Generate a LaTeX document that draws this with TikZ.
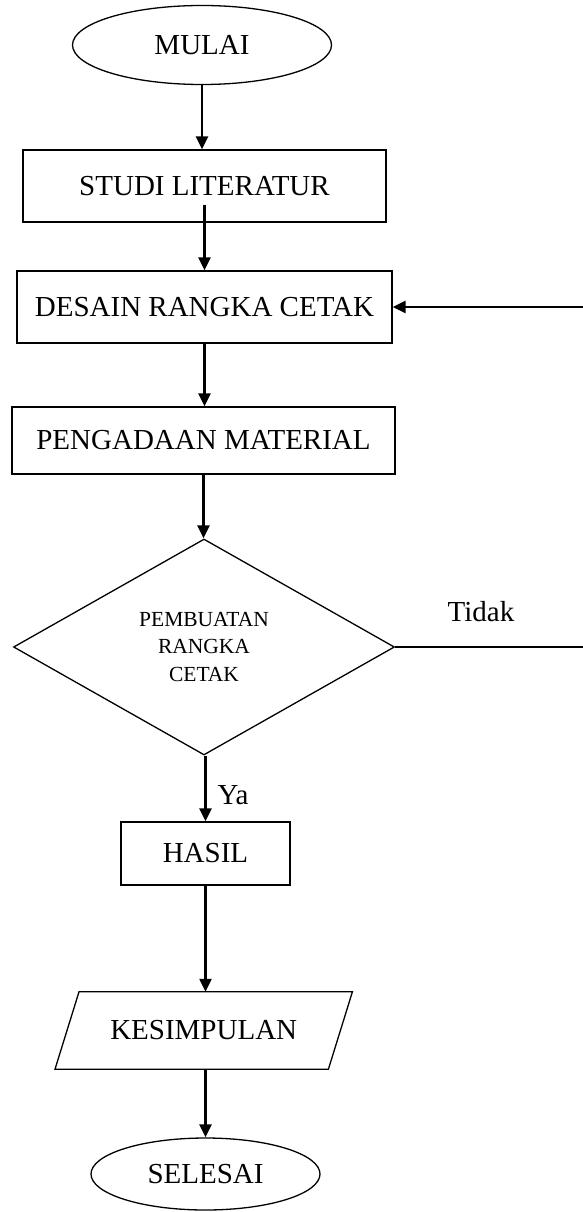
\documentclass[tikz,border=0pt]{standalone}
\usepackage{fontspec}
\setmainfont{Liberation Serif}
\usetikzlibrary{shapes.geometric,arrows.meta}
\begin{document}
\begin{tikzpicture}[x=1pt,y=-1pt,
  base/.style={draw, line width=1.3pt, inner sep=0pt, align=center, font=\fontsize{29}{34}\selectfont},
  boxnode/.style={base, rectangle},
  ovalnode/.style={base, ellipse},
  arr/.style={line width=2.3pt, -{Triangle[length=13pt,width=12pt]}},
  plain/.style={line width=1.4pt},
  lbl/.style={font=\fontsize{29}{34}\selectfont, inner sep=0pt}]
\useasboundingbox (0,0) rectangle (582,1212);
\node[ovalnode, minimum width=259pt, minimum height=79pt] (start) at (202,45) {MULAI};
\node[boxnode, minimum width=363pt, minimum height=72pt] (studi) at (204.5,186) {STUDI LITERATUR};
\node[boxnode, minimum width=375pt, minimum height=72pt] (desain) at (204.5,307) {DESAIN RANGKA CETAK};
\node[boxnode, minimum width=383pt, minimum height=67pt] (pengadaan) at (203.5,440.5) {PENGADAAN MATERIAL};
\node[base, diamond, minimum width=381pt, minimum height=216pt, font=\fontsize{21.5}{27.5}\selectfont] (dec) at (204,647) {PEMBUATAN\\RANGKA\\CETAK};
\node[boxnode, minimum width=169pt, minimum height=63pt] (hasil) at (205.5,853.5) {HASIL};
\node[lbl, minimum width=273pt, minimum height=77pt] (kes) at (203.7,1030.5) {KESIMPULAN};
\draw[line width=1.3pt] ([xshift=12pt]kes.north west) -- ([xshift=12pt]kes.north east) -- ([xshift=-12pt]kes.south east) -- ([xshift=-12pt]kes.south west) -- cycle;
\node[ovalnode, minimum width=229pt, minimum height=72pt] (selesai) at (205.5,1174) {SELESAI};
\node[lbl] (ya) at (233,795) {Ya};
\node[lbl] (tidak) at (481,612) {Tidak};
\coordinate (r1) at (600,647);
\coordinate (r2) at (600,307);
\draw[arr] (start.south) -- (start.south |- studi.north);
\draw[arr] ([yshift=18pt]studi.south) -- (studi.south |- desain.north);
\draw[arr] (desain.south) -- (desain.south |- pengadaan.north);
\draw[arr] (pengadaan.south) -- (pengadaan.south |- dec.north);
\draw[arr] (hasil.north |- dec.south) -- (hasil.north);
\draw[arr] (hasil.south) -- (hasil.south |- kes.north);
\draw[arr] (selesai.north |- kes.south) -- (selesai.north);
\draw[plain] (dec.east) -- (r1) -- (r2);
\draw[arr] (r2) -- (desain.east);
\end{tikzpicture}
\end{document}
